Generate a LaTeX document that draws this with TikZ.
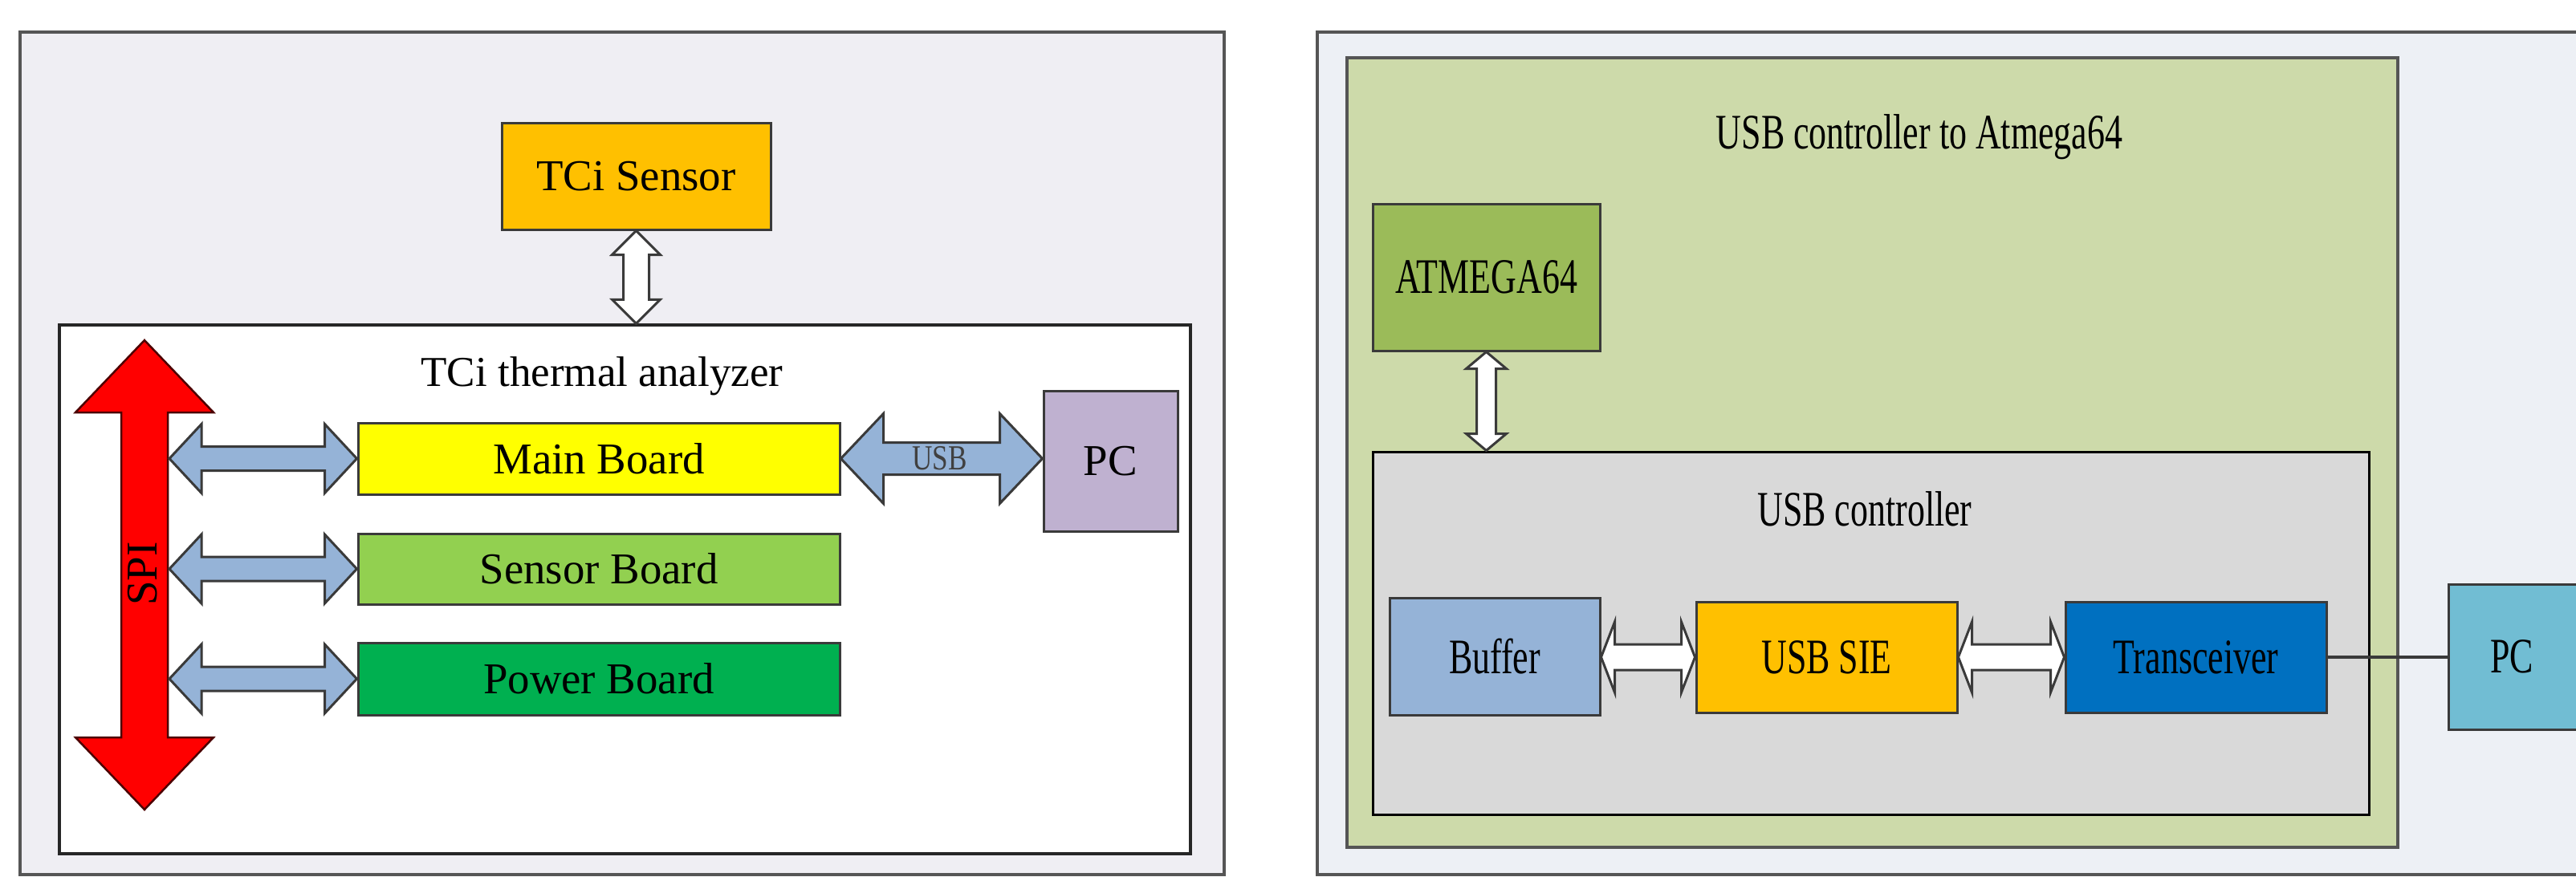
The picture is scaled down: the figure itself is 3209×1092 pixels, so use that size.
\documentclass[tikz,border=0pt]{standalone}
\usepackage{fontspec}
\setmainfont{Liberation Serif}
\usepackage{graphicx}
\usetikzlibrary{calc,fit}
\definecolor{lpanel}{HTML}{EFEEF3}
\definecolor{rpanel}{HTML}{EDF0F5}
\definecolor{bdr}{HTML}{3A3A3A}
\definecolor{obdr}{HTML}{555555}
\definecolor{orangeF}{HTML}{FFC000}
\definecolor{yellowF}{HTML}{FFFF00}
\definecolor{lgreenF}{HTML}{92D050}
\definecolor{greenF}{HTML}{00B050}
\definecolor{pcL}{HTML}{BFB1D0}
\definecolor{blueA}{HTML}{95B3D7}
\definecolor{olive}{HTML}{CDDAAA}
\definecolor{atm}{HTML}{9BBB59}
\definecolor{grayF}{HTML}{D9D9D9}
\definecolor{trans}{HTML}{0070C0}
\definecolor{pcR}{HTML}{71BDD3}
\newcommand{\hdarr}[6]{%
 \draw[#1] (#2) -- ($(#2)+(#4,-#5)$) -- ($(#2)+(#4,-#6)$) -- ($(#3)+(-#4,-#6)$) -- ($(#3)+(-#4,-#5)$) -- (#3) -- ($(#3)+(-#4,#5)$) -- ($(#3)+(-#4,#6)$) -- ($(#2)+(#4,#6)$) -- ($(#2)+(#4,#5)$) -- cycle;}
\newcommand{\vdarr}[6]{%
 \draw[#1] (#2) -- ($(#2)+(#5,#4)$) -- ($(#2)+(#6,#4)$) -- ($(#3)+(#6,-#4)$) -- ($(#3)+(#5,-#4)$) -- (#3) -- ($(#3)+(-#5,-#4)$) -- ($(#3)+(-#6,-#4)$) -- ($(#2)+(-#6,#4)$) -- ($(#2)+(-#5,#4)$) -- cycle;}
\newcommand{\lfont}{\fontsize{15.6}{18}\selectfont}
\newcommand{\rtxt}[1]{\scalebox{0.71}[1]{\fontsize{17.6}{20}\selectfont #1}}
\begin{document}
\begin{tikzpicture}[x=0.1mm,y=-0.1mm,
  panel/.style={draw=obdr,line width=0.4mm,inner sep=0pt},
  blk/.style={draw=bdr,line width=0.3mm,inner sep=0pt},
  txt/.style={inner sep=0pt,font=\lfont},
  barrow/.style={fill=blueA,draw=bdr,line width=0.3mm,line join=miter},
  warrow/.style={fill=white,draw=bdr,line width=0.3mm,line join=miter}]
\useasboundingbox (0,0) rectangle (3209,1092);
% ---------- left panel ----------
\node[panel,fill=lpanel,fit={(25,40) (1525,1090)}] (lp) {};
\node[blk,fill=orangeF,fit={(625,153) (960,286)}] (sensor) {};
\node[txt] (sensort) at (sensor.center) {TCi Sensor};
\node[blk,draw=black!85,fill=white,line width=0.35mm,fit={(74,405) (1483,1064)}] (ana) {};
\node[anchor=base,font=\fontsize{15.1}{18}\selectfont,inner sep=0pt] (anat) at (750,481) {TCi thermal analyzer};
\node[blk,fill=yellowF,fit={(446,527) (1046,616)}] (main) {};
\node[txt] (maint) at (main.center) {Main Board};
\node[blk,fill=lgreenF,fit={(446,665) (1046,753)}] (sboard) {};
\node[txt] (sboardt) at (sboard.center) {Sensor Board};
\node[blk,fill=greenF,fit={(446,801) (1046,891)}] (pboard) {};
\node[txt] (pboardt) at (pboard.center) {Power Board};
\node[blk,fill=pcL,fit={(1300,487) (1467,662)}] (pcl) {};
\node[txt] (pclt) at (pcl.center) {PC};
% SPI bus
\coordinate (spiT) at (180,424);
\coordinate (spiB) at (180,1009);
\vdarr{fill=red,draw=black!70!red,line width=0.25mm,line join=miter}{spiT}{spiB}{90}{86}{29}
\node[rotate=90,txt] (spi) at (178,715) {SPI};
\coordinate (spiR) at (211,0);
\coordinate (a1) at (spiR |- main.west);
\coordinate (a2) at (spiR |- sboard.west);
\coordinate (a3) at (spiR |- pboard.west);
\hdarr{barrow}{a1}{main.west}{40}{43}{15}
\hdarr{barrow}{a2}{sboard.west}{40}{43}{15}
\hdarr{barrow}{a3}{pboard.west}{40}{43}{15}
% USB link
\coordinate (u1) at (main.east);
\coordinate (u2) at (pcl.west |- main.east);
\hdarr{barrow}{u1}{u2}{53}{56}{20}
\node[inner sep=0pt] (usbl) at ($(u1)!0.49!(u2)$) {\scalebox{0.8}[1]{\fontsize{12.5}{14}\selectfont\color{black!75}USB}};
% sensor link
\coordinate (sb) at (sensor.south);
\coordinate (at) at (sb |- ana.north);
\vdarr{warrow}{sb}{at}{30}{30}{16}
% ---------- right panel ----------
\node[panel,fill=rpanel,fit={(1641,40) (3240,1090)}] (rp) {};
\node[panel,fill=olive,fit={(1678,72) (2987,1056)}] (gbox) {};
\node[anchor=base,inner sep=0pt] (gt) at (2391,185) {\rtxt{USB controller to Atmega64}};
\node[blk,fill=atm,fit={(1710,254) (1993,437)}] (atmega) {};
\node[inner sep=0pt] (atmegat) at (atmega.center) {\rtxt{ATMEGA64}};
\node[blk,draw=black,fill=grayF,fit={(1710,563) (2951,1015)}] (uc) {};
\node[anchor=base,inner sep=0pt] (uct) at (2323,655) {\rtxt{USB controller}};
\node[blk,fill=blueA,fit={(1731,745) (1993,891)}] (buf) {};
\node[inner sep=0pt] (buft) at (buf.center) {\rtxt{Buffer}};
\node[blk,fill=orangeF,fit={(2113,750) (2438,888)}] (sie) {};
\node[inner sep=0pt] (siet) at (sie.center) {\rtxt{USB SIE}};
\node[blk,fill=trans,fit={(2573,750) (2898,888)}] (trx) {};
\node[inner sep=0pt] (trxt) at (trx.center) {\rtxt{Transceiver}};
\node[blk,fill=pcR,fit={(3050,728) (3220,909)}] (pcr) {};
\node[inner sep=0pt] (pcrt) at (3129,818) {\rtxt{PC}};
\coordinate (ab) at (atmega.south);
\coordinate (ub) at (ab |- uc.north);
\vdarr{warrow}{ab}{ub}{21}{25}{12}
\coordinate (b1) at (buf.east |- sie.west);
\hdarr{warrow}{b1}{sie.west}{17}{44}{16}
\hdarr{warrow}{sie.east}{trx.west}{17}{44}{16}
\draw[bdr,line width=0.4mm] (trx.east) -- (trx.east -| pcr.west);
\end{tikzpicture}
\end{document}
